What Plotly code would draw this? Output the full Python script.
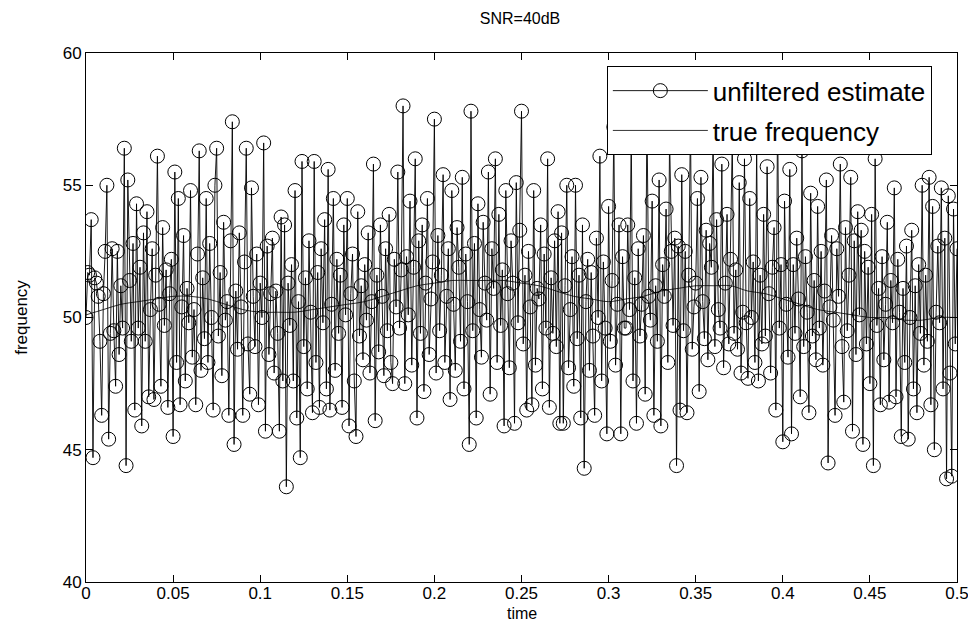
import plotly.graph_objects as go

# ---- data ----
time_step = 0.001
estimate = [
    50.0, 51.7, 51.6, 53.7, 44.7, 51.5, 51.3, 50.8, 49.1, 46.3,
    50.9, 52.5, 55.0, 45.4, 49.4, 52.6, 49.5, 47.4, 52.5, 48.6,
    51.2, 49.6, 56.4, 44.4, 55.2, 51.4, 49.1, 52.8, 46.5, 54.3,
    49.6, 51.9, 45.9, 53.2, 49.1, 54.0, 47.0, 50.3, 52.6, 46.9,
    51.6, 56.1, 50.5, 47.4, 53.4, 49.7, 51.8, 46.6, 50.9, 52.2,
    45.5, 55.5, 48.3, 54.5, 46.7, 50.4, 53.1, 47.6, 51.1, 49.8,
    54.8, 48.5, 50.3, 46.7, 52.4, 56.3, 48.0, 51.5, 49.2, 54.5,
    48.3, 52.8, 50.0, 46.5, 55.0, 56.4, 49.3, 51.7, 47.8, 53.6,
    49.9, 50.6, 46.3, 52.9, 57.4, 45.2, 51.0, 48.8, 53.2, 50.4,
    46.3, 52.1, 56.4, 49.0, 47.1, 54.9, 50.8, 48.9, 52.4, 46.7,
    51.3, 50.0, 56.6, 45.7, 52.7, 48.6, 50.9, 53.0, 47.9, 51.0,
    49.4, 45.7, 53.8, 47.6, 53.5, 43.6, 51.3, 49.7, 52.0, 47.6,
    54.8, 46.2, 50.6, 44.7, 55.9, 48.9, 51.5, 47.3, 52.9, 50.2,
    46.4, 55.9, 48.3, 51.7, 46.6, 52.6, 49.8, 53.7, 47.3, 55.6,
    46.5, 50.5, 54.5, 48.0, 52.2, 49.4, 51.6, 46.6, 53.5, 50.1,
    54.5, 45.9, 50.9, 52.4, 47.6, 45.5, 54.0, 49.3, 51.2, 48.4,
    52.0, 49.9, 53.2, 47.9, 50.6, 55.8, 46.1, 51.6, 48.7, 53.5,
    50.8, 47.8, 52.6, 49.5, 53.9, 48.3, 47.5, 52.2, 50.4, 55.5,
    49.6, 51.8, 58.0, 47.5, 52.3, 50.1, 54.4, 48.2, 51.9, 56.0,
    46.2, 52.9, 49.4, 53.5, 47.2, 51.3, 54.5, 48.6, 50.7, 52.1,
    57.5, 47.9, 53.1, 49.5, 51.6, 55.4, 48.3, 50.8, 52.6, 46.9,
    54.8, 50.5, 48.0, 53.4, 51.9, 49.1, 55.3, 47.3, 52.4, 50.6,
    45.2, 57.8, 49.5, 52.8, 46.2, 54.3, 50.3, 48.5, 53.6, 51.3,
    49.9, 55.5, 47.1, 52.6, 51.1, 56.0, 48.3, 53.9, 49.7, 51.8,
    45.9, 54.8, 50.9, 48.1, 52.9, 51.3, 46.0, 55.1, 49.8, 53.3,
    57.8, 49.0, 51.6, 46.5, 52.5, 50.4, 46.7, 54.8, 48.2, 51.1,
    50.7, 53.5, 47.3, 52.4, 49.6, 56.0, 46.6, 51.5, 49.4, 52.9,
    48.9, 54.0, 46.0, 53.2, 46.0, 51.2, 55.0, 48.1, 50.3, 52.3,
    47.4, 55.0, 49.2, 51.6, 46.2, 53.5, 44.3, 50.6, 52.2, 48.0,
    51.7, 49.3, 46.3, 53.0, 50.0, 56.1, 47.6, 52.1, 49.6, 45.6,
    54.2, 49.1, 51.4, 57.2, 48.2, 50.5, 53.5, 45.6, 52.3, 49.6,
    49.6, 53.5, 50.3, 57.0, 47.6, 51.5, 46.0, 52.6, 49.3, 50.5,
    53.1, 47.1, 58.0, 50.8, 49.9, 54.4, 46.3, 51.2, 49.1, 55.2,
    45.9, 52.0, 50.8, 54.1, 48.3, 56.8, 52.5, 49.7, 53.0, 44.4,
    52.7, 46.5, 55.4, 49.5, 52.5, 46.4, 51.6, 57.5, 48.8, 50.4,
    51.3, 54.5, 47.2, 55.3, 50.6, 49.2, 53.3, 48.4, 52.8, 51.9,
    57.0, 48.9, 53.7, 50.3, 49.6, 55.8, 48.1, 51.3, 53.9, 49.0,
    52.2, 56.7, 49.4, 51.8, 48.8, 55.1, 47.9, 50.2, 56.0, 49.8,
    47.7, 54.5, 50.0, 52.1, 48.3, 56.5, 47.6, 51.6, 49.0, 53.9,
    49.3, 55.7, 50.9, 47.9, 51.9, 53.4, 46.5, 58.0, 49.6, 52.0,
    45.3, 54.4, 50.5, 48.5, 55.6, 45.6, 52.0, 49.4, 53.0, 50.7,
    47.0, 56.3, 48.9, 52.3, 50.2, 46.4, 54.7, 49.3, 51.4, 48.4,
    54.2, 49.6, 52.5, 48.2, 51.0, 55.2, 44.5, 50.4, 53.1, 49.9,
    46.3, 52.6, 50.8, 55.8, 48.9, 46.8, 53.4, 49.5, 51.6, 55.3,
    45.7, 52.9, 48.6, 54.0, 50.1, 53.3, 45.2, 52.5, 49.0, 51.9,
    47.5, 53.9, 44.4, 56.0, 49.7, 51.1, 46.7, 52.3, 48.4, 50.5,
    53.6, 46.8, 51.4, 49.8, 54.9, 47.0, 52.2, 50.2, 45.5, 51.1,
    48.3, 52.7, 45.4, 50.0, 53.3, 47.3, 51.2, 46.4, 52.0, 49.4,
    55.0, 48.2, 51.6, 49.1, 55.3, 46.7, 54.2, 45.0, 50.2, 52.7,
    49.8, 54.9, 47.3, 53.0, 43.9, 54.6, 47.9, 44.0, 54.1, 49.0,
    52.6,
]
estimate_time = [round(i * time_step, 3) for i in range(len(estimate))]

true_time = [0.00, 0.01, 0.02, 0.03, 0.04, 0.05, 0.06, 0.07, 0.08, 0.09,
             0.10, 0.11, 0.12, 0.13, 0.14, 0.15, 0.16, 0.17, 0.18, 0.19,
             0.20, 0.21, 0.22, 0.23, 0.24, 0.25, 0.26, 0.27, 0.28, 0.29,
             0.30, 0.31, 0.32, 0.33, 0.34, 0.35, 0.36, 0.37, 0.38, 0.39,
             0.40, 0.41, 0.42, 0.43, 0.44, 0.45, 0.46, 0.47, 0.48, 0.49, 0.50]
true_freq = [50.1, 50.3, 50.5, 50.6, 50.7, 50.8, 50.8, 50.7, 50.5, 50.3,
             50.2, 50.2, 50.2, 50.3, 50.4, 50.5, 50.6, 50.8, 51.0, 51.2,
             51.3, 51.4, 51.4, 51.4, 51.4, 51.3, 51.2, 51.0, 50.8, 50.7,
             50.6, 50.7, 50.8, 51.0, 51.1, 51.2, 51.2, 51.2, 51.0, 50.9,
             50.7, 50.5, 50.3, 50.2, 50.1, 50.0, 50.0, 49.9, 49.9, 50.0, 50.0]

x_ticks = [0, 0.05, 0.1, 0.15, 0.2, 0.25, 0.3, 0.35, 0.4, 0.45, 0.5]
x_tick_labels = ["0", "0.05", "0.1", "0.15", "0.2", "0.25", "0.3", "0.35", "0.4", "0.45", "0.5"]
y_ticks = [40, 45, 50, 55, 60]

FONT = "Liberation Sans, Arial, sans-serif"

fig = go.Figure()
fig.add_trace(go.Scatter(
    x=estimate_time, y=estimate, mode="lines+markers",
    name="unfiltered estimate", legendgroup="est",
    line=dict(color="black", width=0.9),
    marker=dict(symbol="circle-open", size=14, color="black", line=dict(width=1, color="black")),
))
fig.add_trace(go.Scatter(
    x=true_time, y=true_freq, mode="lines",
    name="true frequency", legendgroup="true",
    line=dict(color="black", width=0.8, shape="spline"),
))

# page is drawn with an 8px body offset, so margins are shifted accordingly
fig.update_layout(
    width=976, height=621,
    paper_bgcolor="white", plot_bgcolor="white",
    margin=dict(l=78, r=27, t=45, b=47, autoexpand=False),
    font=dict(family=FONT, size=17, color="black"),
    title=dict(text="SNR=40dB", x=512 / 976, xanchor="center",
               y=1 - 10 / 621, yanchor="middle", font=dict(size=16)),
    showlegend=True,
    legend=dict(x=0.598, y=0.975, xanchor="left", yanchor="top",
                bgcolor="white", bordercolor="black", borderwidth=1,
                itemwidth=95, font=dict(size=26), tracegroupgap=3),
    annotations=[dict(text="time", xref="paper", yref="paper", x=0.5, y=0,
                      xanchor="center", yanchor="top", yshift=-21,
                      showarrow=False, font=dict(size=16))],
)
fig.update_xaxes(
    range=[0, 0.5], tickvals=x_ticks, ticktext=x_tick_labels,
    ticks="inside", ticklen=7, tickcolor="black",
    showline=True, linecolor="black", linewidth=1, mirror="ticks",
    showgrid=False, zeroline=False, ticklabelstandoff=-4,
    tickfont=dict(size=17),
)
fig.update_yaxes(
    range=[40, 60], tickvals=y_ticks,
    ticks="inside", ticklen=7, tickcolor="black",
    showline=True, linecolor="black", linewidth=1, mirror="ticks",
    showgrid=False, zeroline=False,
    title=dict(text="frequency", standoff=30, font=dict(size=17)),
    tickfont=dict(size=17),
)

fig.write_html("out.html")
